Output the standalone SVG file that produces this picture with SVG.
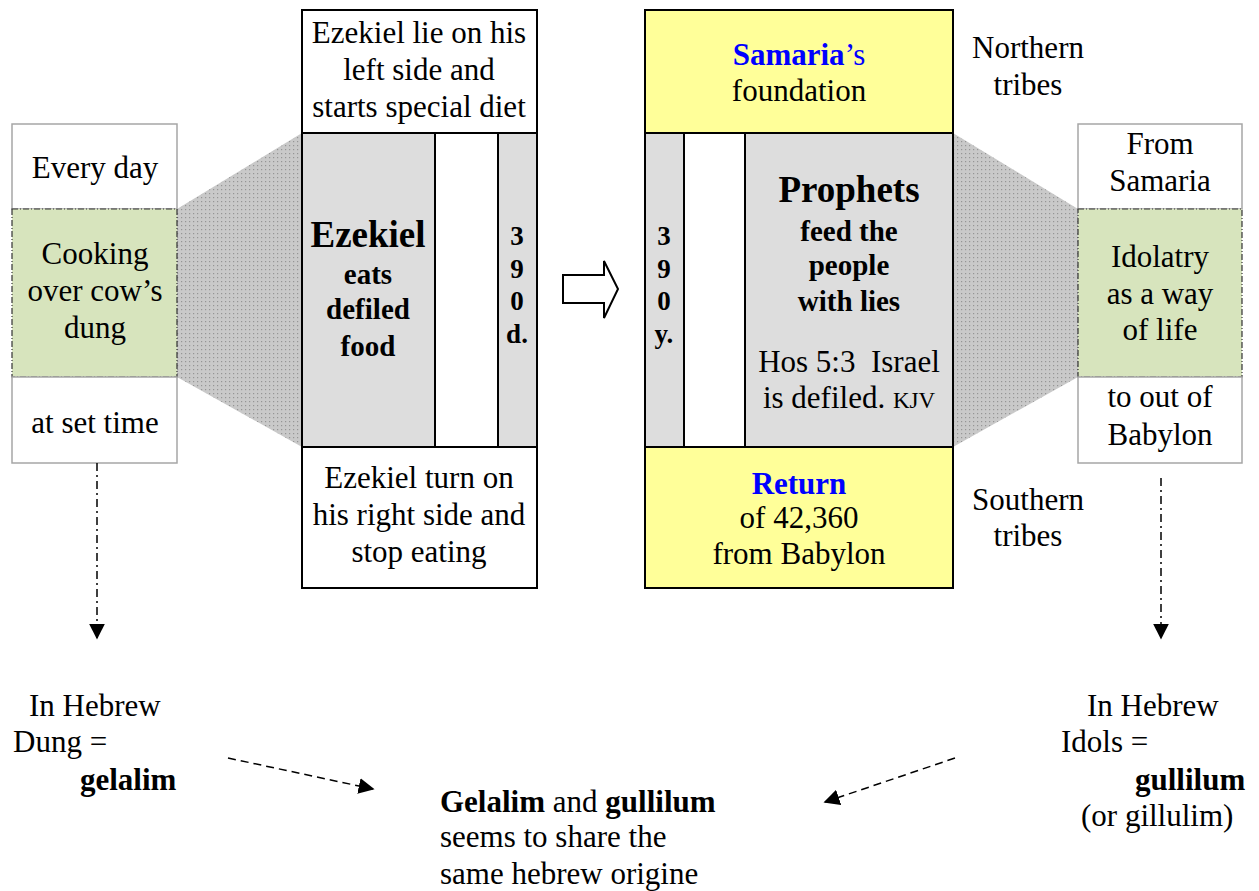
<svg xmlns="http://www.w3.org/2000/svg" width="1259" height="891" viewBox="0 0 1259 891">
<style>
text{font-family:"Liberation Serif","Times New Roman",serif;fill:#000;}
.t{font-size:31px;}
.c{text-anchor:middle;}
.b{font-weight:bold;}
.big{font-size:37px;font-weight:bold;}
.sub{font-size:29px;font-weight:bold;}
.dig{font-size:27px;font-weight:bold;}
.blue{fill:#0000ff;}
.side{fill:#fff;stroke:#a6a6a6;stroke-width:1.5;}
.green{fill:#d7e4bd;stroke:#333;stroke-width:1.2;stroke-dasharray:6 2 1 2;}
.blk{stroke:#000;stroke-width:2;}
.gray{fill:#dddddd;}
.yel{fill:#ffff99;}
.wht{fill:#fff;}
.dd{fill:none;stroke:#000;stroke-width:1.5;stroke-dasharray:8 4 2 4;}
.da{fill:none;stroke:#000;stroke-width:1.5;stroke-dasharray:8 5;}
</style>
<defs>
<pattern id="dots" width="4" height="4" patternUnits="userSpaceOnUse">
<rect width="4" height="4" fill="#c9c9c9"/>
<rect x="1" y="1" width="1.2" height="1.2" fill="#959595"/>
</pattern>
<marker id="ahb" viewBox="0 0 10 10" refX="9" refY="5" markerWidth="16" markerHeight="16" markerUnits="userSpaceOnUse" orient="auto">
<path d="M0,0 L10,5 L0,10 Z" fill="#000"/>
</marker>
</defs>
<rect width="1259" height="891" fill="#fff"/>

<g id="trapezoids">
<polygon points="177,209 302,133 302,447 177,377" fill="url(#dots)"/>
<polygon points="953,133 1078,209 1078,377 953,447" fill="url(#dots)"/>
</g>

<g id="left-column">
<rect class="side" x="12" y="124" width="165" height="85"/>
<text class="t c" x="95" y="178">Every day</text>
<rect class="green" x="12" y="209" width="165" height="168"/>
<text class="t c" x="95" y="264">Cooking</text>
<text class="t c" x="95" y="301">over cow’s</text>
<text class="t c" x="95" y="338">dung</text>
<rect class="side" x="12" y="377" width="165" height="86"/>
<text class="t c" x="95" y="433">at set time</text>
</g>

<g id="ezekiel-column">
<rect class="wht blk" x="302" y="10" width="235" height="123"/>
<text class="t c" x="419" y="43">Ezekiel lie on his</text>
<text class="t c" x="419" y="80">left side and</text>
<text class="t c" x="419" y="117">starts special diet</text>
<rect class="gray blk" x="302" y="133" width="133" height="314"/>
<rect class="wht blk" x="435" y="133" width="63" height="314"/>
<rect class="gray blk" x="498" y="133" width="39" height="314"/>
<text class="big c" x="368" y="247">Ezekiel</text>
<text class="sub c" x="368" y="284">eats</text>
<text class="sub c" x="368" y="319">defiled</text>
<text class="sub c" x="368" y="356">food</text>
<text class="dig c" x="517" y="245">3</text>
<text class="dig c" x="517" y="278">9</text>
<text class="dig c" x="517" y="310">0</text>
<text class="dig c" x="517" y="343">d.</text>
<rect class="wht blk" x="302" y="447" width="235" height="141"/>
<text class="t c" x="419" y="488">Ezekiel turn on</text>
<text class="t c" x="419" y="525">his right side and</text>
<text class="t c" x="419" y="562">stop eating</text>
</g>

<g id="block-arrow">
<polygon points="563,275 604,275 604,261 618,289 604,318 604,303 563,303" fill="#fff" stroke="#000" stroke-width="2"/>
</g>

<g id="israel-column">
<rect class="yel blk" x="645" y="10" width="308" height="123"/>
<text class="t c" x="799" y="65"><tspan class="b blue">Samaria</tspan><tspan class="blue">’s</tspan></text>
<text class="t c" x="799" y="101">foundation</text>
<rect class="gray blk" x="645" y="133" width="39" height="314"/>
<rect class="wht blk" x="684" y="133" width="61" height="314"/>
<rect class="gray blk" x="745" y="133" width="208" height="314"/>
<text class="dig c" x="664" y="245">3</text>
<text class="dig c" x="664" y="278">9</text>
<text class="dig c" x="664" y="310">0</text>
<text class="dig c" x="664" y="343">y.</text>
<text class="big c" x="849" y="202">Prophets</text>
<text class="sub c" x="849" y="241">feed the</text>
<text class="sub c" x="849" y="275">people</text>
<text class="sub c" x="849" y="311">with lies</text>
<text class="t c" x="849" y="372">Hos 5:3&#160; Israel</text>
<text class="t c" x="849" y="408">is defiled. <tspan font-size="23">KJV</tspan></text>
<rect class="yel blk" x="645" y="447" width="308" height="141"/>
<text class="t c b blue" x="799" y="494">Return</text>
<text class="t c" x="799" y="528">of 42,360</text>
<text class="t c" x="799" y="564">from Babylon</text>
</g>

<g id="tribes-labels">
<text class="t c" x="1028" y="58">Northern</text>
<text class="t c" x="1028" y="95">tribes</text>
<text class="t c" x="1028" y="510">Southern</text>
<text class="t c" x="1028" y="546">tribes</text>
</g>

<g id="right-column">
<rect class="side" x="1078" y="124" width="164" height="85"/>
<text class="t c" x="1160" y="154">From</text>
<text class="t c" x="1160" y="191">Samaria</text>
<rect class="green" x="1078" y="209" width="164" height="168"/>
<text class="t c" x="1160" y="267">Idolatry</text>
<text class="t c" x="1160" y="304">as a way</text>
<text class="t c" x="1160" y="340">of life</text>
<rect class="side" x="1078" y="377" width="164" height="86"/>
<text class="t c" x="1160" y="407">to out of</text>
<text class="t c" x="1160" y="445">Babylon</text>
</g>

<g id="hebrew-dung">
<text class="t" x="29" y="716">In Hebrew</text>
<text class="t" x="13" y="752">Dung =</text>
<text class="t b" x="80" y="790">gelalim</text>
</g>

<g id="hebrew-idols">
<text class="t" x="1087" y="716">In Hebrew</text>
<text class="t" x="1061" y="752">Idols =</text>
<text class="t b" x="1135" y="790">gullilum</text>
<text class="t" x="1081" y="826">(or gillulim)</text>
</g>

<g id="conclusion">
<text class="t" x="440" y="812"><tspan class="b">Gelalim</tspan> and <tspan class="b">gullilum</tspan></text>
<text class="t" x="440" y="847">seems to share the</text>
<text class="t" x="440" y="884">same hebrew origine</text>
</g>

<g id="connectors">
<line class="dd" x1="97" y1="463" x2="97" y2="638" marker-end="url(#ahb)"/>
<line class="dd" x1="1161" y1="478" x2="1161" y2="638" marker-end="url(#ahb)"/>
<line class="da" x1="228" y1="758" x2="373" y2="789" marker-end="url(#ahb)"/>
<line class="da" x1="955" y1="758" x2="825" y2="802" marker-end="url(#ahb)"/>
</g>
</svg>
